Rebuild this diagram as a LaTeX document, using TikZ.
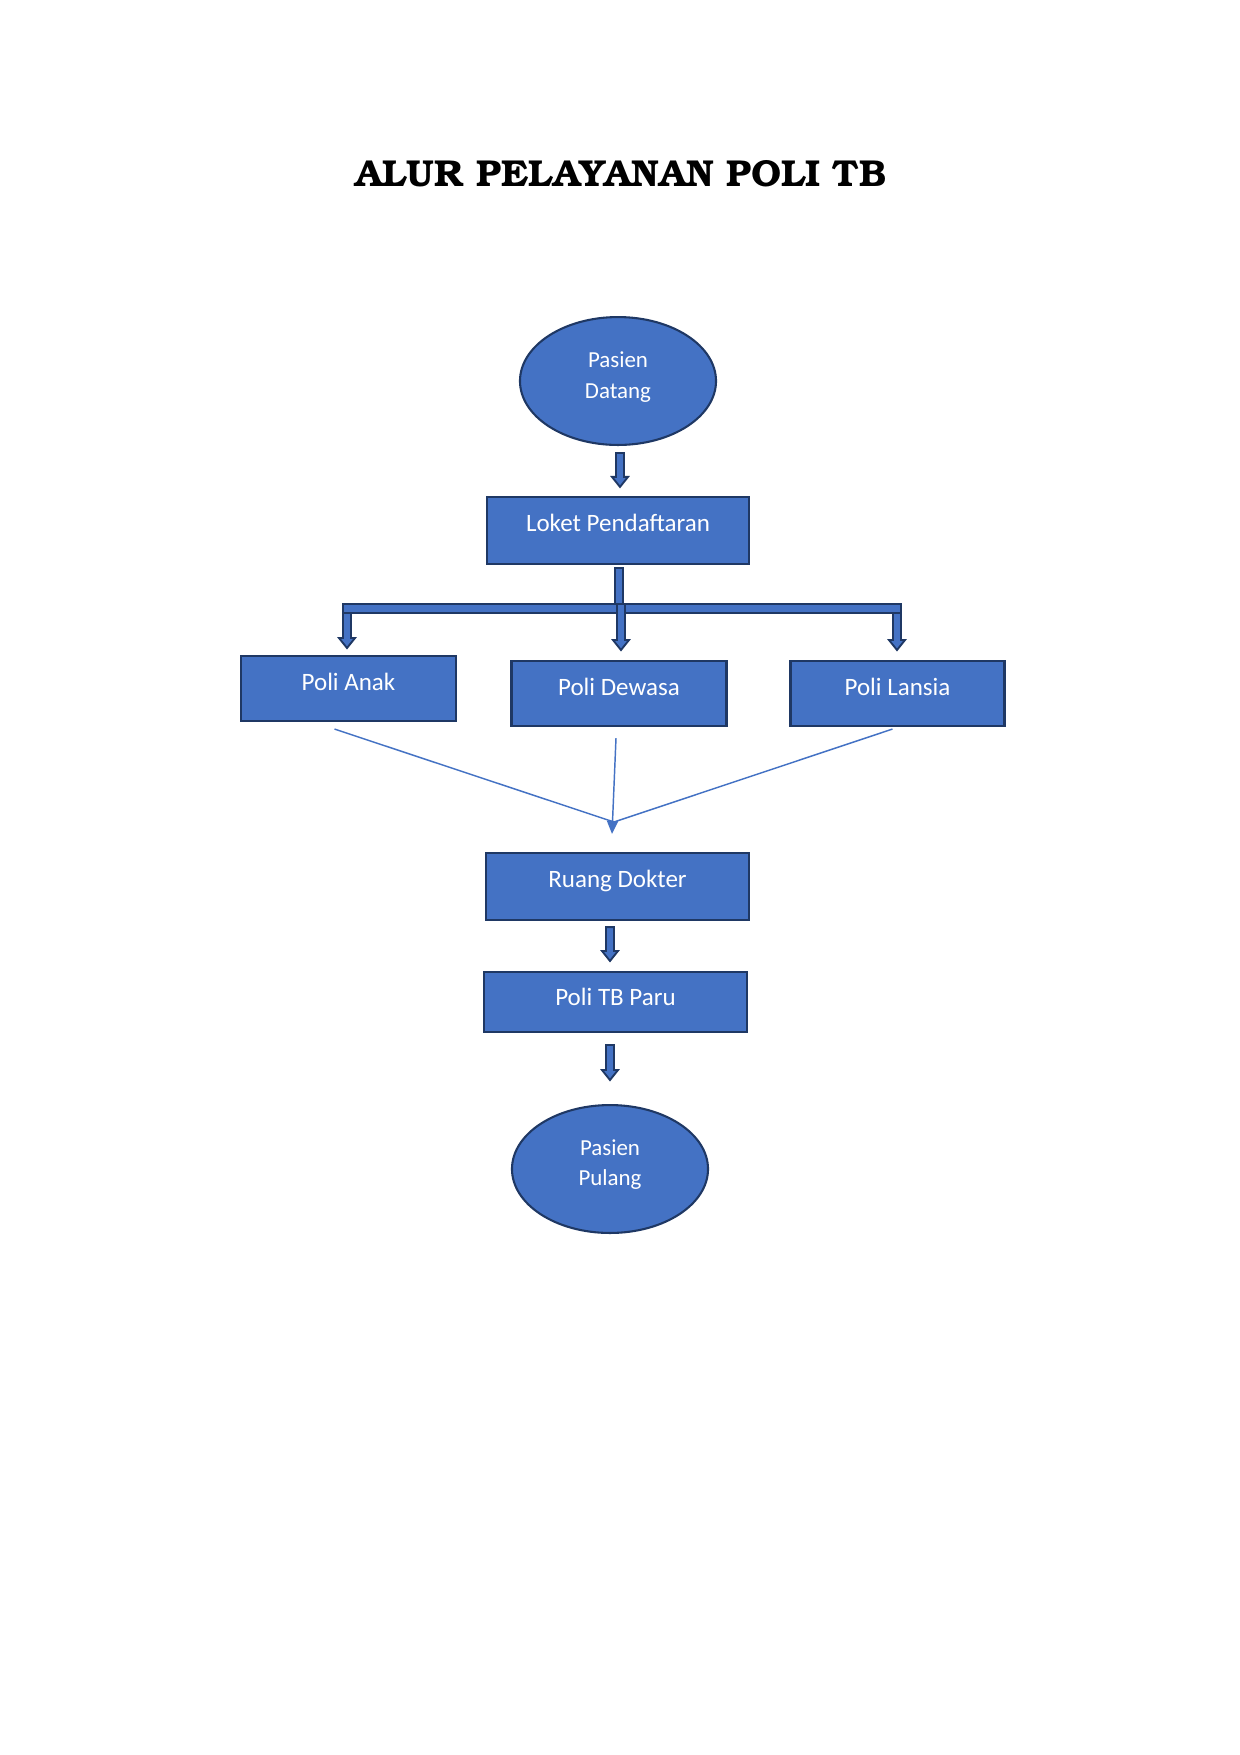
\documentclass[tikz,border=0pt]{standalone}
\usepackage{fontspec}
\setmainfont{Carlito}
\newfontfamily\titlefont{TeX Gyre Bonum}
\usetikzlibrary{calc,arrows.meta,shapes.geometric}
\definecolor{fillblue}{HTML}{4472C4}
\definecolor{navy}{HTML}{1F3864}
% block arrow between two named anchors, at pixel x #3, with gaps #4 (top) and #5 (tip)
\newcommand\blockarrow[5]{%
  \draw[barr] let \p1=($(#1)+(0,#4)$), \p2=($(#2)+(0,-#5)$), \p3=(#3,0) in
    (\x3-1.92pt,\y1) -- (\x3+1.92pt,\y1) -- (\x3+1.92pt,\y2+4.8pt) -- (\x3+3.84pt,\y2+4.8pt)
    -- (\x3,\y2) -- (\x3-3.84pt,\y2+4.8pt) -- (\x3-1.92pt,\y2+4.8pt) -- cycle;}
% block arrow in pixel units: x, top, tip
\newcommand\blockdrop[3]{%
  \draw[barr] (#1-4,#2) -- (#1+4,#2) -- (#1+4,#3-10) -- (#1+8,#3-10) -- (#1,#3)
    -- (#1-8,#3-10) -- (#1-4,#3-10) -- cycle;}
\begin{document}
\begin{tikzpicture}[x=0.48pt,y=-0.48pt,
  box/.style={draw=navy,fill=fillblue,line width=1pt,rectangle,inner sep=0pt},
  oval/.style={draw=navy,fill=fillblue,line width=1pt,ellipse,inner sep=0pt,
    minimum width=94.1pt,minimum height=61.4pt},
  boxtext/.style={text=white,font=\fontsize{12}{14}\selectfont,anchor=base,inner sep=0pt},
  ovaltext/.style={text=white,font=\fontsize{11}{13}\selectfont,anchor=base,inner sep=0pt},
  barr/.style={draw=navy,fill=fillblue,line width=0.9pt,line join=miter},
  thin/.style={draw=fillblue,line width=0.7pt}]
\fill[white] (0,0) rectangle (1240,1755);
\useasboundingbox (0,0) rectangle (1240,1755);

\node[font=\titlefont\bfseries\fontsize{18}{21}\selectfont,anchor=base,inner sep=0pt] (title) at (621,186) {ALUR PELAYANAN POLI TB};

% nodes
\node[oval] (datang) at (618,381) {};
\node[ovaltext] (datangA) at ($(datang.north)+(0,51)$) {Pasien};
\node[ovaltext] (datangB) at ($(datang.north)+(0,82)$) {Datang};

\node[box,minimum width=125.7pt,minimum height=32.2pt] (loket) at (618,530.5) {};
\node[boxtext] (loketT) at ($(loket.north)+(0,36)$) {Loket Pendaftaran};

\node[box,minimum width=103.2pt,minimum height=31.2pt] (anak) at (348.5,688.5) {};
\node[boxtext] (anakT) at ($(anak.north)+(0,36)$) {Poli Anak};
\node[box,minimum width=103.2pt,minimum height=31.2pt] (dewasa) at (619,693.5) {};
\node[boxtext] (dewasaT) at ($(dewasa.north)+(0,36)$) {Poli Dewasa};
\node[box,minimum width=102.7pt,minimum height=31.2pt] (lansia) at (897.5,693.5) {};
\node[boxtext] (lansiaT) at ($(lansia.north)+(0,36)$) {Poli Lansia};

\node[box,minimum width=126.2pt,minimum height=32.2pt] (ruang) at (617.5,886.5) {};
\node[boxtext] (ruangT) at ($(ruang.north)+(0,36)$) {Ruang Dokter};

\node[box,minimum width=126.2pt,minimum height=28.8pt] (politb) at (615.5,1002) {};
\node[boxtext] (politbT) at ($(politb.north)+(0,35)$) {Poli TB Paru};

\node[oval] (pulang) at (610,1169) {};
\node[ovaltext] (pulangA) at ($(pulang.north)+(0,51)$) {Pasien};
\node[ovaltext] (pulangB) at ($(pulang.north)+(0,81)$) {Pulang};

% block arrows
\blockarrow{datang.south}{loket.north}{620}{7}{9}
\blockarrow{ruang.south}{politb.north}{610}{6}{10}
\blockarrow{politb.south}{pulang.north}{610}{12}{24}

% branch from Loket to the three poli
\coordinate (busL) at (343,604);
\coordinate (busR) at (901,613);
\draw[barr] (615,568) rectangle (623,604);
\draw[barr] (busL) rectangle (busR);
\blockdrop{621}{604}{650}
\blockdrop{347}{613}{648}
\blockdrop{897}{613}{650}

% thin converging arrows into Ruang Dokter
\coordinate (meet) at (614,822);
\draw[thin] ($(anak.south)+(-14,7)$) -- (meet);
\draw[thin] ($(lansia.south)+(-5,2)$) -- (meet);
\draw[thin,-{Triangle[length=6.2pt,width=5.3pt]}] ($(dewasa.south)+(-3,11)$) -- ($(ruang.north)+(-5.5,-18)$);
\end{tikzpicture}
\end{document}
